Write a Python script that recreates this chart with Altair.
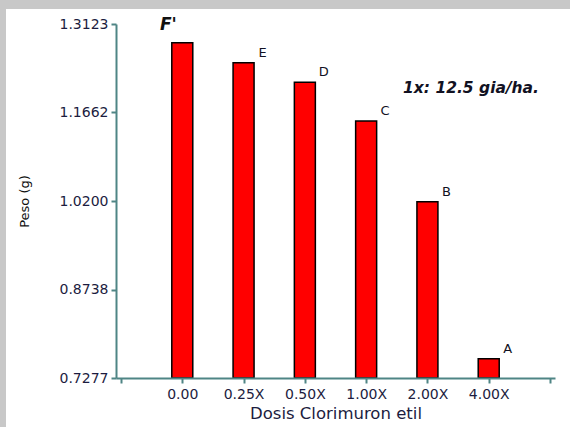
import altair as alt
import pandas as pd

categories = ["0.00", "0.25X", "0.50X", "1.00X", "2.00X", "4.00X"]
peso = [1.2814, 1.2484, 1.2160, 1.1521, 1.0188, 0.7596]
letters = ["F'", "E", "D", "C", "B", "A"]
y_ticks = [0.7277, 0.8738, 1.0200, 1.1662, 1.3123]
note = "1x: 12.5 gia/ha."

df = pd.DataFrame({
    "pos": list(range(1, len(categories) + 1)),
    "dosis": categories,
    "peso": peso,
    "letra": letters,
})

AX = "#4f8585"
TXT = "#1c1c40"
FONT = "DejaVu Sans"

label_expr = "datum.value >= 1 && datum.value <= 6 ? [" + ",".join(
    "'" + c + "'" for c in categories) + "][datum.value - 1] : ''"

x_enc = alt.X("pos:Q",
              scale=alt.Scale(domain=[0, 7], nice=False, zero=False),
              axis=alt.Axis(values=list(range(0, 8)), labelExpr=label_expr,
                            title="Dosis Clorimuron etil", grid=False, zindex=1,
                            domainColor=AX, domainWidth=2, tickColor=AX,
                            tickWidth=2, tickSize=5, labelPadding=4,
                            labelFont=FONT, labelFontSize=14, labelColor=TXT,
                            titleFont=FONT, titleFontSize=16.5, titleColor=TXT,
                            titleFontWeight="normal", titleY=35,
                            titleBaseline="middle"))
y_enc = alt.Y("peso:Q",
              scale=alt.Scale(domain=[y_ticks[0], y_ticks[-1]], zero=False, nice=False),
              axis=alt.Axis(values=y_ticks, format=".4f", title="Peso (g)", grid=False,
                            zindex=1,
                            domainColor=AX, domainWidth=2, tickColor=AX,
                            tickWidth=2, tickSize=5, labelPadding=3,
                            labelFont=FONT, labelFontSize=14, labelColor=TXT,
                            titleFont=FONT, titleFontSize=13, titleColor="#111111",
                            titleFontWeight="normal", titleX=-92, titleY=177,
                            titleAngle=-90, titleBaseline="middle", titleAlign="center"))

frame = alt.Chart(pd.DataFrame({"a": [0]})).mark_rect(color="white").encode(
    x=alt.value(-110), x2=alt.value(460), y=alt.value(-15), y2=alt.value(410))

bars = alt.Chart(df).mark_bar(size=21, color="#ff0000", stroke="black",
                              strokeWidth=1.5).encode(
    x=x_enc, y=y_enc, y2=alt.datum(y_ticks[0]))

other_letters = alt.Chart(df[df["pos"] > 1]).mark_text(
    dx=19, dy=-10, font=FONT, fontSize=13, color="#111122").encode(
    x="pos:Q", y="peso:Q", text="letra:N")

first_letter = alt.Chart(df[df["pos"] == 1]).mark_text(
    dx=-14, dy=-18, font=FONT, fontSize=17, fontWeight="bold",
    fontStyle="italic", color="#111111").encode(
    x="pos:Q", y="peso:Q", text="letra:N")

note_text = alt.Chart(pd.DataFrame({"t": [note]})).mark_text(
    font=FONT, fontSize=15.5, fontWeight="bold", fontStyle="italic",
    color="#111122").encode(x=alt.value(355), y=alt.value(64), text="t:N")

chart = alt.layer(frame, bars, other_letters, first_letter, note_text).properties(
    width=439, height=354,
    autosize=alt.AutoSizeParams(type="none"),
    padding={"left": 116, "top": 24, "right": 15, "bottom": 49},
    background="#c8c8c8",
).configure_view(stroke=None)

chart.save("out.html", embed_options={"renderer": "svg", "actions": False})
